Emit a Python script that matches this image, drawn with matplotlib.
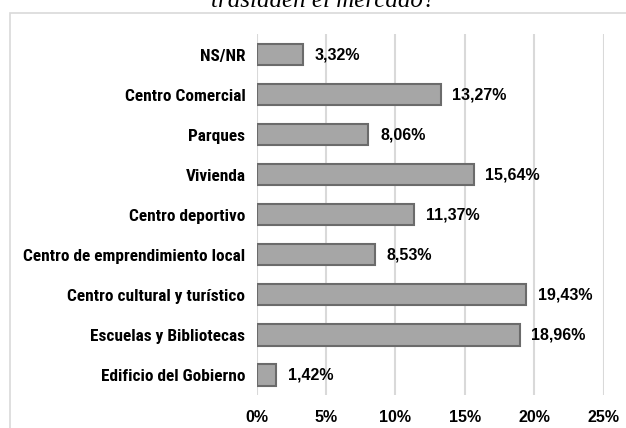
import matplotlib
matplotlib.use("Agg")
import matplotlib.pyplot as plt
from matplotlib.patches import Rectangle
from matplotlib.ticker import FuncFormatter

categories = [
    "NS/NR",
    "Centro Comercial",
    "Parques",
    "Vivienda",
    "Centro deportivo",
    "Centro de emprendimiento local",
    "Centro cultural y turístico",
    "Escuelas y Bibliotecas",
    "Edificio del Gobierno",
]
values = [3.32, 13.27, 8.06, 15.64, 11.37, 8.53, 19.43, 18.96, 1.42]
value_labels = ["3,32%", "13,27%", "8,06%", "15,64%", "11,37%", "8,53%", "19,43%", "18,96%", "1,42%"]
x_ticks = [0, 5, 10, 15, 20, 25]
title = "trasladen el mercado?"

W, H = 626, 428
fig = plt.figure(figsize=(W / 100, H / 100), dpi=100)
fig.patch.set_facecolor("white")

CAT_FAMILY = ["Roboto Condensed", "Encode Sans Semi Condensed", "Liberation Sans", "DejaVu Sans"]
CAT_SIZE = 12.4
NUM_FAMILY = ["Liberation Sans", "DejaVu Sans"]
NUM_SIZE = 11.5

# chart frame
fig.patches.append(Rectangle((10 / W, -0.1), 1.2, (H - 13) / H + 0.1,
                             transform=fig.transFigure, fill=False,
                             edgecolor="#d9d9d9", linewidth=1.2))

fig.text(0.516, 1 - 7 / H, title, ha="center", va="baseline",
         family=["Liberation Serif", "DejaVu Serif"], style="italic", size=18,
         color="black")

ax = fig.add_axes([256.5 / W, 1 - 395 / H, (603.5 - 256.5) / W, (395 - 34.5) / H])
ypos = list(range(len(categories)))
ax.barh(ypos, values, height=0.53, color="#a6a6a6", edgecolor="#6b6b6b",
        linewidth=1.5, zorder=3)

for y, v, lab in zip(ypos, values, value_labels):
    ax.text(v + 0.85, y, lab, va="center", ha="left", color="black",
            family=NUM_FAMILY, weight="bold", size=NUM_SIZE)

ax.set_xlim(0, 25)
ax.set_ylim(len(categories) - 0.5, -0.5)
ax.set_xticks(x_ticks)
ax.xaxis.set_major_formatter(FuncFormatter(lambda v, p: f"{int(v)}%"))
ax.set_yticks(ypos)
ax.set_yticklabels(categories)
for t in ax.get_yticklabels():
    t.set_fontfamily(CAT_FAMILY)
    t.set_fontweight("bold")
    t.set_fontsize(CAT_SIZE)
for t in ax.get_xticklabels():
    t.set_fontfamily(NUM_FAMILY)
    t.set_fontweight("bold")
    t.set_fontsize(NUM_SIZE)
ax.tick_params(axis="both", length=0)
ax.tick_params(axis="y", pad=8)
ax.tick_params(axis="x", pad=11)
ax.grid(axis="x", color="#d9d9d9", linewidth=1.5, zorder=0)
for s in ax.spines.values():
    s.set_visible(False)
ax.set_axisbelow(True)

fig.savefig("out.png", dpi=100)
